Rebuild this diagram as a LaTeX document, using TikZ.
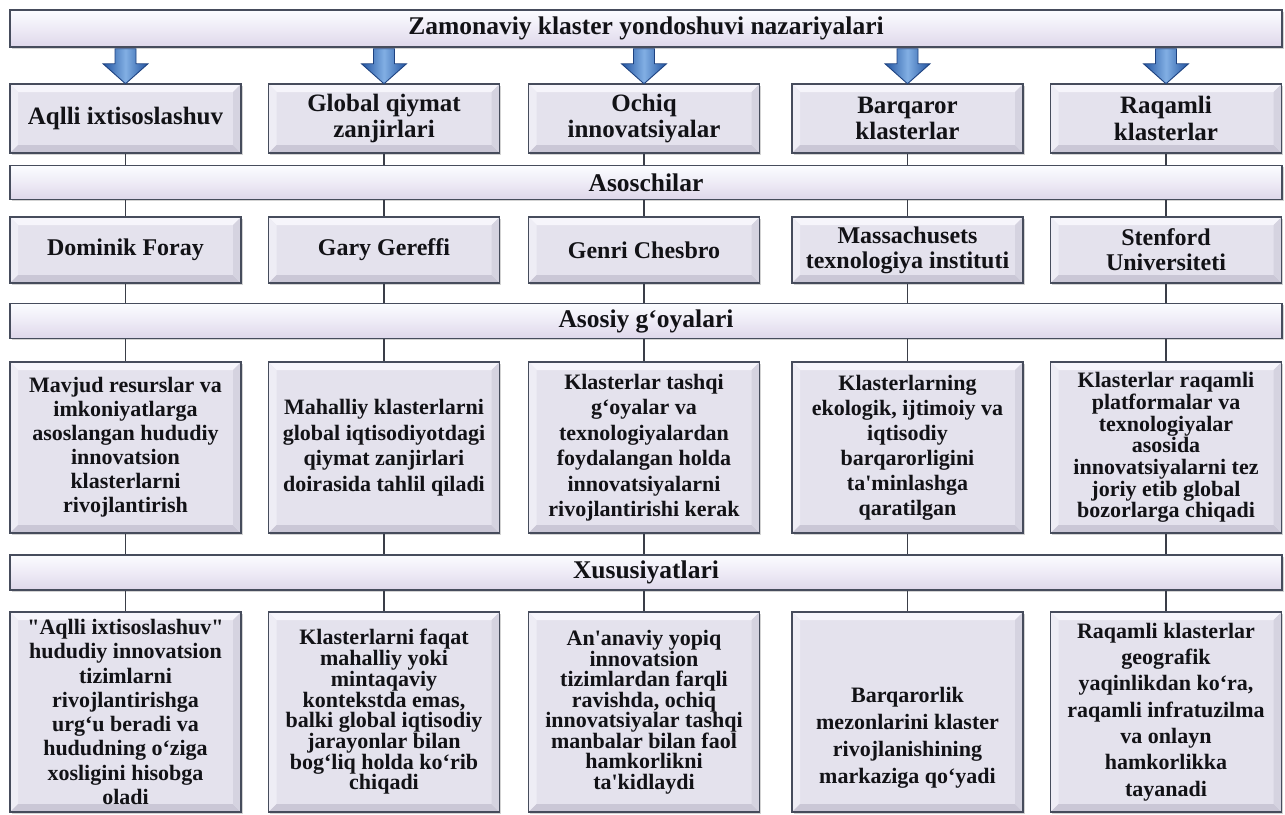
\documentclass[tikz,border=0pt]{standalone}
\usepackage{fontspec}
% straight quote marks are kept as typed
\setmainfont{Liberation Serif}[Ligatures=TeXOff]
\usetikzlibrary{shadows}

\definecolor{boxfill}{RGB}{228,226,237}
\definecolor{bevtop}{RGB}{246,245,251}
\definecolor{bevleft}{RGB}{238,237,245}
\definecolor{bevbottom}{RGB}{202,199,214}
\definecolor{bevright}{RGB}{213,211,224}
\definecolor{boxedge}{RGB}{70,76,92}
\definecolor{bantop}{RGB}{251,252,255}
\definecolor{banmid}{RGB}{238,235,246}
\definecolor{banbottom}{RGB}{222,215,234}
\definecolor{arrowlight}{RGB}{130,175,228}
\definecolor{arrowdark}{RGB}{34,84,160}
\definecolor{arrowedge}{RGB}{30,66,128}
\definecolor{linkgray}{RGB}{58,62,72}
\definecolor{ink}{RGB}{18,18,22}

\tikzset{
  bevelfaces/.style={path picture={
    \fill[bevtop] (path picture bounding box.north west) -- (path picture bounding box.north east)
      -- ([shift={(-8pt,-8pt)}]path picture bounding box.north east)
      -- ([shift={(8pt,-8pt)}]path picture bounding box.north west) -- cycle;
    \fill[bevleft] (path picture bounding box.north west) -- ([shift={(8pt,-8pt)}]path picture bounding box.north west)
      -- ([shift={(8pt,8pt)}]path picture bounding box.south west)
      -- (path picture bounding box.south west) -- cycle;
    \fill[bevbottom] (path picture bounding box.south west) -- (path picture bounding box.south east)
      -- ([shift={(-8pt,8pt)}]path picture bounding box.south east)
      -- ([shift={(8pt,8pt)}]path picture bounding box.south west) -- cycle;
    \fill[bevright] (path picture bounding box.north east) -- (path picture bounding box.south east)
      -- ([shift={(-8pt,8pt)}]path picture bounding box.south east)
      -- ([shift={(-8pt,-8pt)}]path picture bounding box.north east) -- cycle;
  }},
  box/.style={draw=boxedge, line width=1.5pt, fill=boxfill, bevelfaces,
    drop shadow={shadow xshift=1.5pt, shadow yshift=-1.5pt, opacity=0.35},
    minimum width=231pt, inner sep=0pt, align=center, text=ink},
  headbox/.style={box, minimum height=69pt, font=\bfseries\fontsize{25}{26.7}\selectfont},
  namebox/.style={box, minimum height=66pt, font=\bfseries\fontsize{24}{25}\selectfont},
  ideabox/.style={box, minimum height=171pt, font=\bfseries\fontsize{22}{#1}\selectfont},
  ideabox/.default=24,
  featbox/.style={box, minimum height=200pt, font=\bfseries\fontsize{22}{#1}\selectfont},
  featbox/.default=24,
  banner/.style={draw=boxedge, line width=1.5pt, top color=bantop, bottom color=banbottom,
    middle color=banmid,
    drop shadow={shadow xshift=1.5pt, shadow yshift=-1.5pt, opacity=0.35},
    minimum width=1272pt, inner sep=0pt, text=ink,
    font=\bfseries\fontsize{25.5}{27}\selectfont},
  link/.style={draw=linkgray, line width=1.6pt},
  downarrow/.pic={
    \shade[left color=arrowdark, right color=arrowdark, middle color=arrowlight,
      draw=arrowedge, line width=0.9pt]
      (-10.5pt,-1pt) -- (10.5pt,-1pt) -- (10.5pt,-16pt) -- (22.5pt,-16pt)
      -- (0pt,-36pt) -- (-22.5pt,-16pt) -- (-10.5pt,-16pt) -- cycle;
  },
}

\begin{document}
\begin{tikzpicture}[x=1pt,y=-1pt]
\useasboundingbox (0,0) rectangle (1285,814);

% headline and section banners
\node[banner, minimum height=37pt] (title) at (646,28.5) {Zamonaviy klaster yondoshuvi nazariyalari};
\node[banner, minimum height=34pt] (ban2) at (646,182.5) {Asoschilar};
\node[banner, minimum height=35pt] (ban3) at (646,321) {Asosiy g‘oyalari};
\node[banner, minimum height=35pt] (ban4) at (646,572.5) {Xususiyatlari};

% theories
\node[headbox] (t1) at (125.5,118.5) {Aqlli ixtisoslashuv};
\node[headbox] (t2) at (384,118.5) {Global qiymat\\zanjirlari};
\node[headbox] (t3) at (644,118.5) {Ochiq\\innovatsiyalar};
\node[headbox] (t4) at (907.5,118.5) {Barqaror\\klasterlar};
\node[headbox] (t5) at (1166,118.5) {Raqamli\\klasterlar};

% founders
\node[namebox] (a1) at (125.5,250) {Dominik Foray};
\node[namebox] (a2) at (384,250) {Gary Gereffi};
\node[namebox] (a3) at (644,250) {Genri Chesbro};
\node[namebox] (a4) at (907.5,250) {Massachusets\\texnologiya instituti};
\node[namebox] (a5) at (1166,250) {Stenford\\Universiteti};

% main ideas
\node[ideabox=24] (g1) at (125.5,447.5) {Mavjud resurslar va\\imkoniyatlarga\\asoslangan hududiy\\innovatsion\\klasterlarni\\rivojlantirish};
\node[ideabox=25.5] (g2) at (384,447.5) {Mahalliy klasterlarni\\global iqtisodiyotdagi\\qiymat zanjirlari\\doirasida tahlil qiladi};
\node[ideabox=25.5] (g3) at (644,447.5) {Klasterlar tashqi\\g‘oyalar va\\texnologiyalardan\\foydalangan holda\\innovatsiyalarni\\rivojlantirishi kerak};
\node[ideabox=25] (g4) at (907.5,447.5) {Klasterlarning\\ekologik, ijtimoiy va\\iqtisodiy\\barqarorligini\\ta'minlashga\\qaratilgan};
\node[ideabox=21.7] (g5) at (1166,447.5) {Klasterlar raqamli\\platformalar va\\texnologiyalar\\asosida\\innovatsiyalarni tez\\joriy etib global\\bozorlarga chiqadi};

% features
\node[featbox=24.3] (f1) at (125.5,712) {"Aqlli ixtisoslashuv"\\hududiy innovatsion\\tizimlarni\\rivojlantirishga\\urg‘u beradi va\\hududning o‘ziga\\xosligini hisobga\\oladi};
\node[featbox=20.7] (f2) at (384,712) {Klasterlarni faqat\\mahalliy yoki\\mintaqaviy\\kontekstda emas,\\balki global iqtisodiy\\jarayonlar bilan\\bog‘liq holda ko‘rib\\chiqadi};
\node[featbox=20.5] (f3) at (644,712) {An'anaviy yopiq\\innovatsion\\tizimlardan farqli\\ravishda, ochiq\\innovatsiyalar tashqi\\manbalar bilan faol\\hamkorlikni\\ta'kidlaydi};
\node[featbox=27] (f4) at (907.5,712) {\rule{0pt}{67pt}Barqarorlik\\mezonlarini klaster\\rivojlanishining\\markaziga qo‘yadi};
\node[featbox=26.3] (f5) at (1166,712) {Raqamli klasterlar\\geografik\\yaqinlikdan ko‘ra,\\raqamli infratuzilma\\va onlayn\\hamkorlikka\\tayanadi};

% connectors between the levels and arrows from the headline
\foreach \i in {1,...,5}{
  \pic at (title.south -| t\i) {downarrow};
  \draw[link] (t\i.south) -- (t\i.south |- ban2.north);
  \draw[link] (ban2.south -| a\i) -- (a\i.north);
  \draw[link] (a\i.south) -- (a\i.south |- ban3.north);
  \draw[link] (ban3.south -| g\i) -- (g\i.north);
  \draw[link] (g\i.south) -- (g\i.south |- ban4.north);
  \draw[link] (ban4.south -| f\i) -- (f\i.north);
}
\end{tikzpicture}
\end{document}
